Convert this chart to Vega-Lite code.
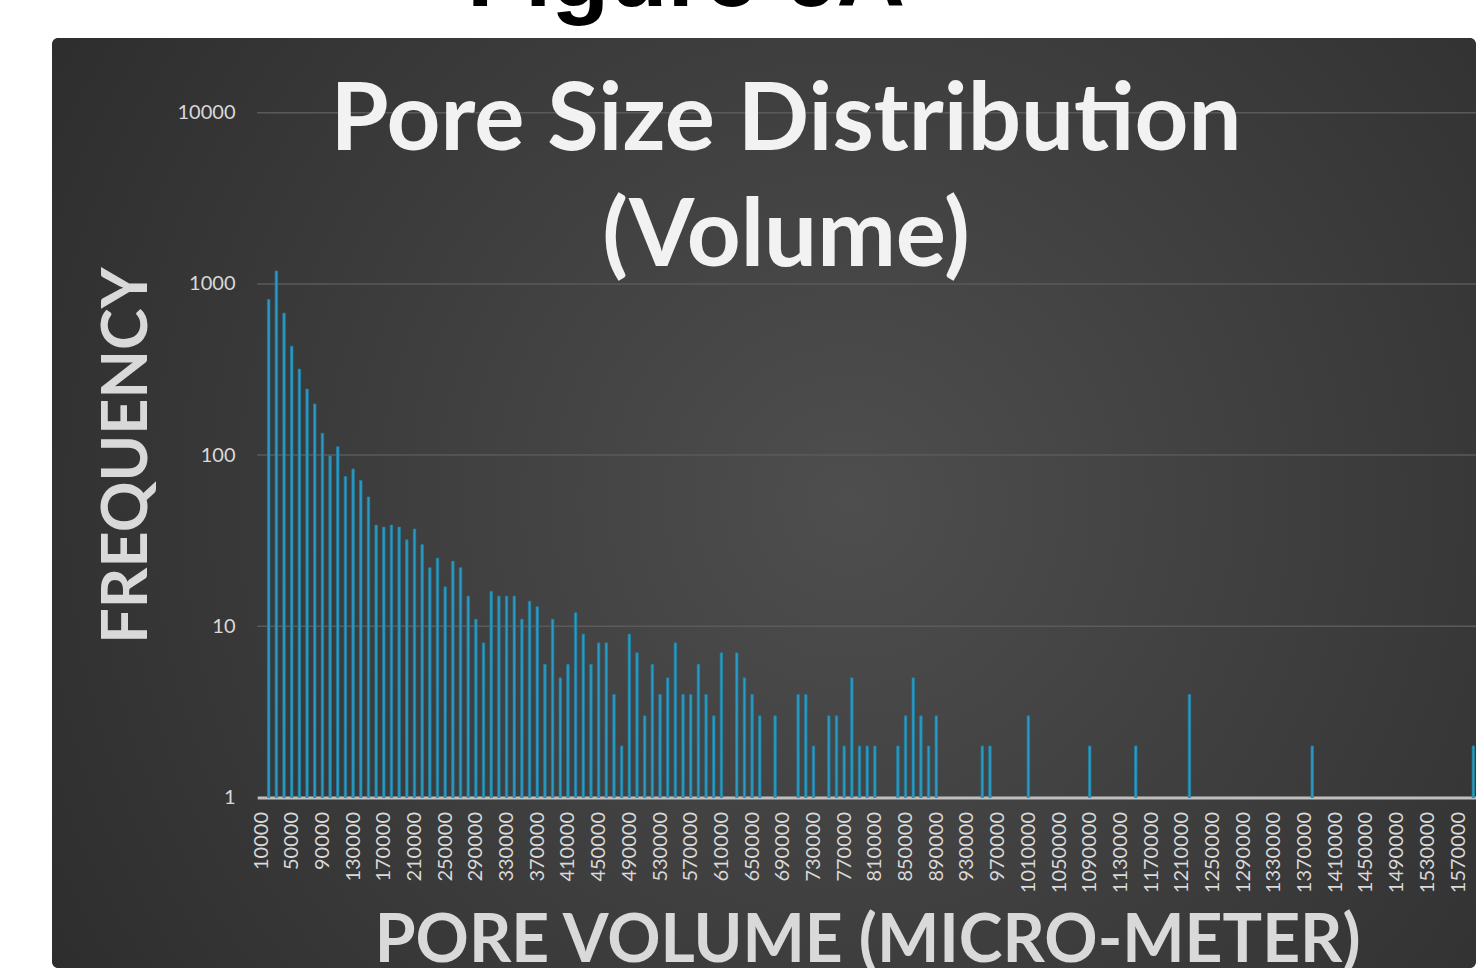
{
  "$schema": "https://vega.github.io/schema/vega-lite/v6.json",
  "width": 1424,
  "height": 930,
  "autosize": {"type": "none"},
  "padding": {"left": 52, "top": 38, "right": 0, "bottom": 0},
  "background": "#ffffff",
  "title": {
    "text": ["Pore Size Distribution", "(Volume)"],
    "font": "Lato",
    "fontWeight": "bold",
    "fontSize": 94,
    "lineHeight": 116,
    "color": "#f2f2f2",
    "anchor": "middle",
    "dx": 22,
    "offset": -356
  },
  "config": {
    "view": {
      "fill": {
        "gradient": "radial",
        "x1": 0.56, "y1": 0.5, "r1": 0,
        "x2": 0.56, "y2": 0.5, "r2": 0.8,
        "stops": [
          {"offset": 0, "color": "#4e4e4e"},
          {"offset": 1, "color": "#262626"}
        ]
      },
      "stroke": null,
      "cornerRadius": 6
    },
    "axisX": {
      "format": "d",
      "labelAngle": -90,
      "labelPadding": 14,
      "labelOverlap": false,
      "labelFlush": false,
      "labelBound": false,
      "ticks": false,
      "grid": false,
      "domain": true,
      "domainColor": "#bfbfbf",
      "domainWidth": 3,
      "offset": -170.5,
      "labelFont": "Lato",
      "labelFontSize": 20,
      "labelColor": "#d9d9d9",
      "titleFont": "Lato",
      "titleFontWeight": "bold",
      "titleFontSize": 66,
      "titleColor": "#d9d9d9",
      "titlePadding": 17
    },
    "axisY": {
      "format": "d",
      "offset": -205,
      "labelPadding": 22,
      "ticks": false,
      "domain": false,
      "grid": false,
      "labelFont": "Lato",
      "labelFontSize": 20,
      "labelColor": "#d9d9d9",
      "titleFont": "Lato",
      "titleFontWeight": "bold",
      "titleFontSize": 63,
      "titleColor": "#d9d9d9",
      "titlePadding": 18
    }
  },
  "datasets": {
    "grid": [
      {"frequency": 10},
      {"frequency": 100},
      {"frequency": 1000},
      {"frequency": 10000}
    ],
    "pores": [
      {"volume": 20000, "frequency": 810},
      {"volume": 30000, "frequency": 1190},
      {"volume": 40000, "frequency": 675},
      {"volume": 50000, "frequency": 433},
      {"volume": 60000, "frequency": 318},
      {"volume": 70000, "frequency": 243},
      {"volume": 80000, "frequency": 199},
      {"volume": 90000, "frequency": 134},
      {"volume": 100000, "frequency": 99},
      {"volume": 110000, "frequency": 112},
      {"volume": 120000, "frequency": 75},
      {"volume": 130000, "frequency": 83},
      {"volume": 140000, "frequency": 71},
      {"volume": 150000, "frequency": 57},
      {"volume": 160000, "frequency": 39},
      {"volume": 170000, "frequency": 38},
      {"volume": 180000, "frequency": 39},
      {"volume": 190000, "frequency": 38},
      {"volume": 200000, "frequency": 32},
      {"volume": 210000, "frequency": 37},
      {"volume": 220000, "frequency": 30},
      {"volume": 230000, "frequency": 22},
      {"volume": 240000, "frequency": 25},
      {"volume": 250000, "frequency": 17},
      {"volume": 260000, "frequency": 24},
      {"volume": 270000, "frequency": 22},
      {"volume": 280000, "frequency": 15},
      {"volume": 290000, "frequency": 11},
      {"volume": 300000, "frequency": 8},
      {"volume": 310000, "frequency": 16},
      {"volume": 320000, "frequency": 15},
      {"volume": 330000, "frequency": 15},
      {"volume": 340000, "frequency": 15},
      {"volume": 350000, "frequency": 11},
      {"volume": 360000, "frequency": 14},
      {"volume": 370000, "frequency": 13},
      {"volume": 380000, "frequency": 6},
      {"volume": 390000, "frequency": 11},
      {"volume": 400000, "frequency": 5},
      {"volume": 410000, "frequency": 6},
      {"volume": 420000, "frequency": 12},
      {"volume": 430000, "frequency": 9},
      {"volume": 440000, "frequency": 6},
      {"volume": 450000, "frequency": 8},
      {"volume": 460000, "frequency": 8},
      {"volume": 470000, "frequency": 4},
      {"volume": 480000, "frequency": 2},
      {"volume": 490000, "frequency": 9},
      {"volume": 500000, "frequency": 7},
      {"volume": 510000, "frequency": 3},
      {"volume": 520000, "frequency": 6},
      {"volume": 530000, "frequency": 4},
      {"volume": 540000, "frequency": 5},
      {"volume": 550000, "frequency": 8},
      {"volume": 560000, "frequency": 4},
      {"volume": 570000, "frequency": 4},
      {"volume": 580000, "frequency": 6},
      {"volume": 590000, "frequency": 4},
      {"volume": 600000, "frequency": 3},
      {"volume": 610000, "frequency": 7},
      {"volume": 630000, "frequency": 7},
      {"volume": 640000, "frequency": 5},
      {"volume": 650000, "frequency": 4},
      {"volume": 660000, "frequency": 3},
      {"volume": 680000, "frequency": 3},
      {"volume": 710000, "frequency": 4},
      {"volume": 720000, "frequency": 4},
      {"volume": 730000, "frequency": 2},
      {"volume": 750000, "frequency": 3},
      {"volume": 760000, "frequency": 3},
      {"volume": 770000, "frequency": 2},
      {"volume": 780000, "frequency": 5},
      {"volume": 790000, "frequency": 2},
      {"volume": 800000, "frequency": 2},
      {"volume": 810000, "frequency": 2},
      {"volume": 840000, "frequency": 2},
      {"volume": 850000, "frequency": 3},
      {"volume": 860000, "frequency": 5},
      {"volume": 870000, "frequency": 3},
      {"volume": 880000, "frequency": 2},
      {"volume": 890000, "frequency": 3},
      {"volume": 950000, "frequency": 2},
      {"volume": 960000, "frequency": 2},
      {"volume": 1010000, "frequency": 3},
      {"volume": 1090000, "frequency": 2},
      {"volume": 1150000, "frequency": 2},
      {"volume": 1220000, "frequency": 4},
      {"volume": 1380000, "frequency": 2},
      {"volume": 1590000, "frequency": 2}
    ]
  },
  "layer": [
    {
      "data": {"name": "grid"},
      "mark": {"type": "rule", "color": "#5a5a5a", "strokeWidth": 1.5},
      "encoding": {
        "y": {
          "field": "frequency", "type": "quantitative",
          "scale": {"type": "log", "domain": [1, 10000], "range": [759.5, 74.7], "nice": false},
          "axis": {"values": [1, 10, 100, 1000, 10000], "title": "FREQUENCY"}
        },
        "x": {
          "datum": 5000, "type": "quantitative",
          "scale": {"domain": [5000, 1595000], "range": [205.2, 1425.2], "nice": false, "zero": false, "padding": 0},
          "axis": {
            "values": [10000, 50000, 90000, 130000, 170000, 210000, 250000, 290000, 330000, 370000, 410000, 450000, 490000, 530000, 570000, 610000, 650000, 690000, 730000, 770000, 810000, 850000, 890000, 930000, 970000, 1010000, 1050000, 1090000, 1130000, 1170000, 1210000, 1250000, 1290000, 1330000, 1370000, 1410000, 1450000, 1490000, 1530000, 1570000],
            "title": "PORE VOLUME (MICRO-METER)"
          }
        },
        "x2": {"datum": 1595000}
      }
    },
    {
      "data": {"name": "pores"},
      "mark": {"type": "bar", "width": 2.5, "color": "#2a9bc4", "stroke": "#1f7fa3", "strokeWidth": 0.7},
      "encoding": {
        "x": {
          "field": "volume", "type": "quantitative",
          "scale": {"domain": [5000, 1595000], "range": [205.2, 1425.2], "nice": false, "zero": false, "padding": 0},
          "axis": {
            "values": [10000, 50000, 90000, 130000, 170000, 210000, 250000, 290000, 330000, 370000, 410000, 450000, 490000, 530000, 570000, 610000, 650000, 690000, 730000, 770000, 810000, 850000, 890000, 930000, 970000, 1010000, 1050000, 1090000, 1130000, 1170000, 1210000, 1250000, 1290000, 1330000, 1370000, 1410000, 1450000, 1490000, 1530000, 1570000],
            "title": "PORE VOLUME (MICRO-METER)"
          }
        },
        "y": {
          "field": "frequency", "type": "quantitative",
          "scale": {"type": "log", "domain": [1, 10000], "range": [759.5, 74.7], "nice": false},
          "axis": {"values": [1, 10, 100, 1000, 10000], "title": "FREQUENCY"}
        },
        "y2": {"datum": 1}
      }
    },
    {
      "data": {"values": [{"label": "Figure 6A"}]},
      "mark": {"type": "text", "font": "Liberation Sans", "fontWeight": "bold", "fontSize": 95, "color": "#000000", "align": "center", "baseline": "alphabetic"},
      "encoding": {
        "text": {"field": "label", "type": "nominal"},
        "x": {
          "datum": 563843, "type": "quantitative",
          "scale": {"domain": [5000, 1595000], "range": [205.2, 1425.2], "nice": false, "zero": false, "padding": 0},
          "axis": {
            "values": [10000, 50000, 90000, 130000, 170000, 210000, 250000, 290000, 330000, 370000, 410000, 450000, 490000, 530000, 570000, 610000, 650000, 690000, 730000, 770000, 810000, 850000, 890000, 930000, 970000, 1010000, 1050000, 1090000, 1130000, 1170000, 1210000, 1250000, 1290000, 1330000, 1370000, 1410000, 1450000, 1490000, 1530000, 1570000],
            "title": "PORE VOLUME (MICRO-METER)"
          }
        },
        "y": {
          "datum": 42000, "type": "quantitative",
          "scale": {"type": "log", "domain": [1, 10000], "range": [759.5, 74.7], "nice": false},
          "axis": {"values": [1, 10, 100, 1000, 10000], "title": "FREQUENCY"}
        }
      }
    }
  ]
}
